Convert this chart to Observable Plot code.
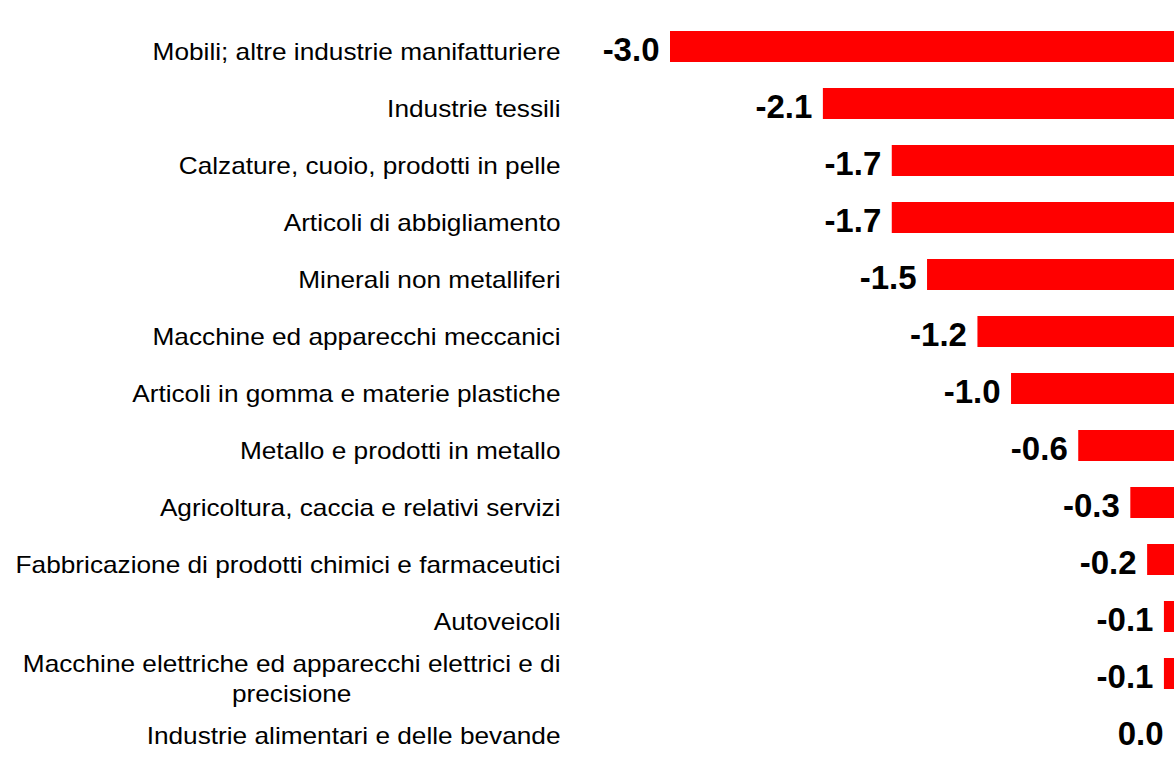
<!DOCTYPE html>
<html>
<head>
<meta charset="utf-8">
<script src="https://cdn.jsdelivr.net/npm/d3@7"></script>
<script src="https://cdn.jsdelivr.net/npm/@observablehq/plot@0.6"></script>
<style>
  html, body { margin: 0; padding: 0; background: #fff; }
  #chart svg { display: block; }
</style>
</head>
<body>
<div id="chart"></div>
<script>
const categories = [
  "Mobili; altre industrie manifatturiere",
  "Industrie tessili",
  "Calzature, cuoio, prodotti in pelle",
  "Articoli di abbigliamento",
  "Minerali non metalliferi",
  "Macchine ed apparecchi meccanici",
  "Articoli in gomma e materie plastiche",
  "Metallo e prodotti in metallo",
  "Agricoltura, caccia e relativi servizi",
  "Fabbricazione di prodotti chimici e farmaceutici",
  "Autoveicoli",
  "Macchine elettriche ed apparecchi elettrici e di\nprecisione",
  "Industrie alimentari e delle bevande"
];
const values = [-3.0, -2.09, -1.68, -1.68, -1.47, -1.17, -0.97, -0.57, -0.26, -0.16, -0.06, -0.06, 0.0];

const data = categories.map((c, i) => ({cat: c, value: values[i]}));
const font = "'Liberation Sans', Arial, Helvetica, sans-serif";
const labelStretch = 1.14;

const chart = Plot.plot({
  width: 1174,
  height: 761,
  marginLeft: 670,
  marginRight: 0,
  marginTop: 18,
  marginBottom: 2,
  style: {fontFamily: font, background: "#fff", color: "#000"},
  x: {domain: [-3, 0], axis: null},
  y: {domain: categories, axis: null, paddingInner: 0.456, paddingOuter: 0.228},
  marks: [
    Plot.barX(data, {x: "value", y: "cat", fill: "#ff0000"}),
    Plot.text(data, {
      x: "value", y: "cat",
      text: d => d.value.toFixed(1),
      textAnchor: "end", dx: -11, dy: 3,
      fontWeight: "bold", fontSize: 33, fill: "#000"
    }),
    Plot.text(data, {
      y: "cat", frameAnchor: "left",
      text: "cat",
      textAnchor: "end", dx: -110, dy: 3,
      fontSize: 23, fill: "#000", lineHeight: 1.3
    })
  ]
});
document.getElementById("chart").appendChild(chart);

// category labels: horizontally widened as in the reference; wrapped lines centred under the first
const catSet = new Set(categories.map(c => c.replace(/\n/g, "")));
chart.querySelectorAll("text").forEach(t => {
  if (!catSet.has(t.textContent)) return;
  const x = parseFloat(t.getAttribute("x") || "0");
  const y = parseFloat(t.getAttribute("y") || "0");
  const tr = t.getAttribute("transform") || "";
  t.setAttribute("transform", `${tr} translate(${x},${y}) scale(${labelStretch},1) translate(${-x},${-y})`);
  const spans = t.querySelectorAll("tspan");
  if (spans.length > 1) {
    const w = spans[0].getComputedTextLength();
    const sx = parseFloat(spans[0].getAttribute("x") || x || "0");
    for (let i = 1; i < spans.length; i++) {
      spans[i].setAttribute("text-anchor", "middle");
      spans[i].setAttribute("x", sx - w / 2);
    }
  }
});
</script>
</body>
</html>
